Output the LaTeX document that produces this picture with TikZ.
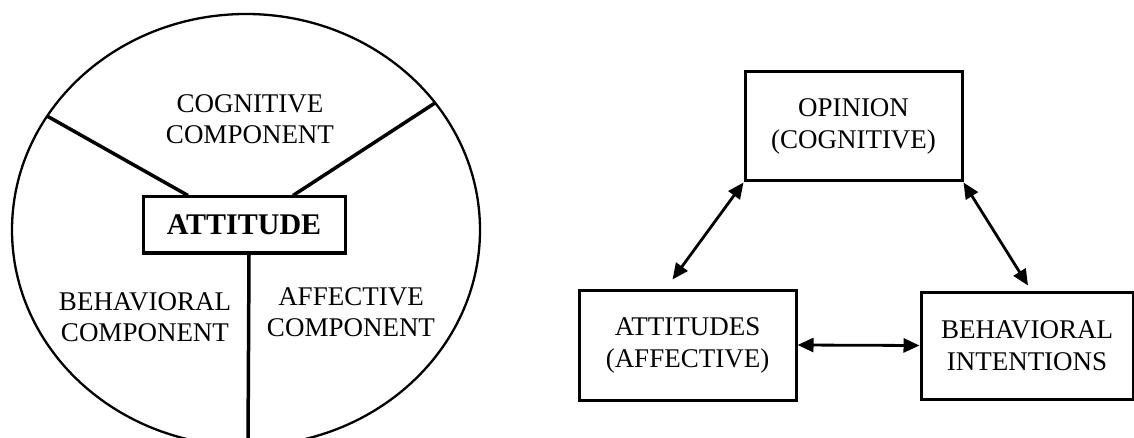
\documentclass[tikz,border=0pt]{standalone}
\usepackage{fontspec}
\setmainfont{Liberation Serif}
\usepackage{tikz}
\usetikzlibrary{arrows.meta}
\usetikzlibrary{calc}
\tikzset{box/.style={draw,line width=3pt,align=center,inner sep=0pt,font=\fontsize{27}{32}\selectfont}}
\tikzset{split/.style={line width=3.5pt}}
\tikzset{lbl/.style={font=\fontsize{27}{31}\selectfont,align=center}}
\tikzset{both/.style={line width=2.8pt,{Triangle[length=16pt,width=14pt]}-{Triangle[length=16pt,width=14pt]}}}

\begin{document}
\begin{tikzpicture}[x=1pt,y=-1pt]
\useasboundingbox (0,0) rectangle (1134,438);
\clip (0,0) rectangle (1134,438);
\draw[line width=2.3pt] (246,230) ellipse [x radius=234,y radius=216];
\node[box,minimum width=202pt,minimum height=56pt,font=\fontsize{30}{34}\selectfont\bfseries] (att) at (244,225) {ATTITUDE};
\coordinate (cl) at (47,116);
\coordinate (cr) at (435,103);
\coordinate (cb) at (248,446);
\draw[split] (cl) -- (att.north west -| 188,0);
\draw[split] (cr) -- (att.north west -| 293,0);
\draw[split] (att.south west -| 249,0) -- (cb);
\node[lbl] (cog) at (250,119) {COGNITIVE\\COMPONENT};
\node[lbl] (beh1) at (145,317) {BEHAVIORAL\\COMPONENT};
\node[lbl] (aff1) at (351,312) {AFFECTIVE\\COMPONENT};
\node[box,minimum width=217pt,minimum height=109pt] (op) at (853.5,126.5) {OPINION\\(COGNITIVE)};
\node[box,minimum width=217pt,minimum height=110pt] (aff) at (687.5,345) {ATTITUDES\\(AFFECTIVE)};
\node[box,minimum width=212pt,minimum height=107pt] (beh) at (1027,345.5) {BEHAVIORAL\\INTENTIONS};
\draw[both] (op.south west) -- ([shift={(-15pt,9pt)}]aff.north);
\draw[both] (op.south east) -- ([shift={(1pt,5pt)}]beh.north);
\draw[both] (aff.east) -- (beh.west);
\end{tikzpicture}
\end{document}
